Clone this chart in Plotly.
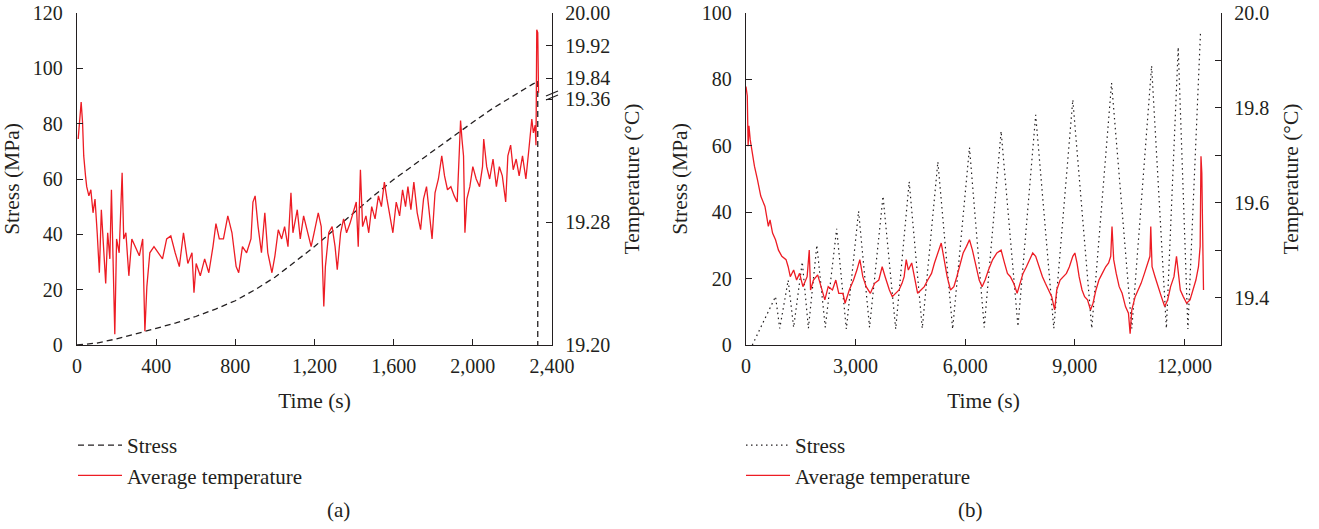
import plotly.graph_objects as go

FONT = "Liberation Serif"
INK = "#231f20"
RED = "#ed1c24"
W, H = 1319, 529

# ---------------- Panel (a) data ----------------
a_stress_time = [0, 100, 200, 300, 400, 500, 600, 700, 800, 900, 1000, 1100, 1200, 1300, 1400,
                 1500, 1600, 1700, 1800, 1900, 2000, 2100, 2200, 2300, 2320, 2328, 2328]
a_stress_val = [0, 0.7, 2.2, 4.0, 6.0, 8.0, 10.3, 13.0, 16.0, 20.0, 24.5, 30.0, 35.6, 41.7, 48.0,
                54.0, 59.8, 65.0, 70.0, 75.5, 80.5, 85.5, 90.0, 94.2, 95.0, 95.5, 0]

a_temp_time = [
    6, 21, 28, 34, 43, 49, 60, 70, 81, 91,
    102, 113, 123, 134, 145, 155, 166, 174, 183, 191,
    200, 213, 228, 236, 247, 262, 277, 294, 315, 332,
    343, 353, 368, 389, 411, 432, 453, 474, 496, 517,
    538, 560, 581, 591, 602, 623, 645, 666, 687, 702,
    719, 740, 762, 783, 804, 817, 836, 857, 879, 889,
    900, 915, 932, 949, 964, 985, 1000, 1017, 1034, 1049,
    1066, 1081, 1091, 1113, 1128, 1145, 1166, 1183, 1198, 1219,
    1234, 1247, 1255, 1272, 1289, 1304, 1315, 1332, 1347, 1362,
    1379, 1396, 1411, 1421, 1432, 1443, 1460, 1474, 1489, 1506,
    1523, 1538, 1553, 1566, 1581, 1596, 1613, 1630, 1645, 1660,
    1672, 1687, 1702, 1719, 1736, 1751, 1766, 1779, 1794, 1809,
    1826, 1843, 1857, 1872, 1889, 1906, 1921, 1932, 1938, 1945,
    1953, 1960, 1970, 1985, 2000, 2017, 2034, 2049, 2055, 2070,
    2085, 2102, 2119, 2134, 2149, 2166, 2177, 2191, 2204, 2219,
    2234, 2251, 2268, 2283, 2298, 2306, 2315, 2319,
    2323, 2328, 2332,
]
a_temp_val = [
    19.334, 19.358, 19.345, 19.323, 19.310, 19.303, 19.297, 19.301, 19.286, 19.295,
    19.273, 19.247, 19.288, 19.260, 19.240, 19.273, 19.256, 19.301, 19.260, 19.207,
    19.269, 19.260, 19.312, 19.269, 19.273, 19.245, 19.269, 19.264, 19.258, 19.269,
    19.209, 19.238, 19.260, 19.264, 19.260, 19.256, 19.269, 19.271, 19.260, 19.251,
    19.273, 19.253, 19.260, 19.234, 19.253, 19.245, 19.256, 19.247, 19.264, 19.279,
    19.269, 19.269, 19.284, 19.273, 19.251, 19.247, 19.264, 19.260, 19.269, 19.293,
    19.297, 19.277, 19.260, 19.286, 19.260, 19.247, 19.258, 19.275, 19.269, 19.277,
    19.264, 19.299, 19.273, 19.288, 19.269, 19.284, 19.273, 19.264, 19.273, 19.286,
    19.277, 19.225, 19.251, 19.273, 19.277, 19.264, 19.249, 19.273, 19.282, 19.273,
    19.279, 19.286, 19.293, 19.264, 19.314, 19.277, 19.284, 19.273, 19.290, 19.282,
    19.297, 19.290, 19.306, 19.295, 19.284, 19.273, 19.293, 19.284, 19.301, 19.290,
    19.303, 19.288, 19.306, 19.286, 19.275, 19.295, 19.303, 19.286, 19.269, 19.299,
    19.308, 19.323, 19.310, 19.301, 19.303, 19.297, 19.293, 19.327, 19.346, 19.334,
    19.323, 19.273, 19.295, 19.303, 19.316, 19.308, 19.303, 19.316, 19.334, 19.316,
    19.308, 19.321, 19.303, 19.316, 19.310, 19.293, 19.323, 19.330, 19.314, 19.321,
    19.310, 19.323, 19.308, 19.327, 19.347, 19.338, 19.343, 19.330,
    19.959, 19.952, 19.804,
]

a_time_ticks = [0, 400, 800, 1200, 1600, 2000, 2400]
a_temp_ticks = [19.20, 19.28, 19.36, 19.84, 19.92, 20.00]

# ---------------- Panel (b) data ----------------
b_stress_time = [173, 808, 923, 1154, 1304, 1540, 1708, 1939, 2170, 2481,
                 2746, 3081, 3381, 3750, 4097, 4466, 4824, 5251, 5655, 6116,
                 6520, 6982, 7443, 7928, 8424, 8944, 9463, 10005, 10559, 11101,
                 11505, 11829, 12094, 12440]
b_stress_val = [0, 14.6, 5.0, 19.5, 5.3, 25.0, 5.0, 30.1, 5.3, 35.0,
                4.8, 40.3, 5.3, 44.8, 4.8, 49.2, 5.0, 55.2, 4.8, 59.5,
                5.3, 64.4, 5.6, 69.3, 5.0, 73.9, 5.0, 78.9, 5.0, 84.1,
                5.0, 89.7, 4.8, 94.5]

b_temp_time = [
    0, 35, 58, 81, 115, 173, 231, 312, 404, 519,
    612, 658, 727, 808, 889, 981, 1096, 1154, 1212, 1304,
    1385, 1466, 1558, 1673, 1731, 1766, 1846, 1962, 2077, 2158,
    2250, 2366, 2458, 2539, 2654, 2712, 2827, 2943, 3035, 3116,
    3197, 3289, 3404, 3520, 3635, 3727, 3808, 3924, 4004, 4097,
    4189, 4270, 4328, 4385, 4443, 4535, 4616, 4697, 4789, 4881,
    4974, 5078, 5158, 5251, 5343, 5424, 5505, 5597, 5689, 5770,
    5851, 5943, 6035, 6116, 6197, 6289, 6382, 6462, 6543, 6636,
    6751, 6866, 6982, 7074, 7155, 7236, 7328, 7420, 7501, 7582,
    7674, 7766, 7847, 7928, 8020, 8113, 8193, 8274, 8367, 8447,
    8505, 8597, 8690, 8770, 8851, 8944, 9001, 9059, 9117, 9197,
    9267, 9347, 9428, 9497, 9578, 9659, 9751, 9844, 9924, 9982,
    10017, 10063, 10132, 10213, 10294, 10386, 10467, 10513, 10559, 10651,
    10732, 10813, 10905, 10998, 11055, 11078, 11113, 11194, 11275, 11367,
    11459, 11540, 11621, 11713, 11782, 11829, 11886, 11967, 12059, 12152,
    12232, 12313, 12384, 12429, 12452, 12475, 12498, 12521,
]
b_temp_val = [
    19.845, 19.825, 19.719, 19.762, 19.733, 19.705, 19.677, 19.649, 19.614, 19.592,
    19.550, 19.564, 19.536, 19.522, 19.500, 19.487, 19.480, 19.465, 19.444, 19.458,
    19.437, 19.451, 19.423, 19.444, 19.500, 19.416, 19.437, 19.448, 19.416, 19.395,
    19.423, 19.416, 19.437, 19.409, 19.409, 19.388, 19.416, 19.437, 19.458, 19.480,
    19.444, 19.423, 19.409, 19.430, 19.437, 19.465, 19.444, 19.416, 19.402, 19.409,
    19.416, 19.430, 19.444, 19.480, 19.458, 19.473, 19.437, 19.409, 19.416, 19.423,
    19.437, 19.451, 19.473, 19.494, 19.515, 19.480, 19.444, 19.416, 19.423, 19.444,
    19.465, 19.494, 19.508, 19.522, 19.500, 19.465, 19.437, 19.423, 19.437, 19.458,
    19.480, 19.494, 19.500, 19.473, 19.451, 19.444, 19.430, 19.409, 19.430, 19.451,
    19.465, 19.480, 19.494, 19.487, 19.465, 19.444, 19.430, 19.416, 19.402, 19.374,
    19.416, 19.437, 19.444, 19.451, 19.465, 19.487, 19.494, 19.473, 19.444, 19.416,
    19.402, 19.395, 19.374, 19.388, 19.416, 19.437, 19.451, 19.465, 19.473, 19.487,
    19.550, 19.480, 19.451, 19.423, 19.409, 19.381, 19.367, 19.324, 19.374, 19.402,
    19.416, 19.430, 19.451, 19.473, 19.487, 19.550, 19.465, 19.444, 19.423, 19.402,
    19.381, 19.395, 19.423, 19.444, 19.487, 19.451, 19.416, 19.402, 19.388, 19.395,
    19.416, 19.437, 19.465, 19.508, 19.698, 19.663, 19.536, 19.416,
]

b_time_ticks = [0, 3000, 6000, 9000, 12000]
b_temp_ticks = [19.4, 19.5, 19.6, 19.7, 19.8, 19.9, 20.0]
b_temp_labels = ["19.4", "", "19.6", "", "19.8", "", "20.0"]


# Broken temperature axis of panel (a): two linear segments drawn on a 0-120 scale
def broken_axis(t):
    if t < 19.5:
        return (t - 19.20) * 555.6
    return 96.5 + (t - 19.84) * 146.9


def px(x):
    return x / W


def py(y):
    return 1 - y / H


fig = go.Figure()
fig.add_trace(go.Scatter(x=a_stress_time, y=a_stress_val, mode="lines", name="Stress",
                         line=dict(color=INK, width=1.3, dash="6px,4px"),
                         xaxis="x", yaxis="y", legend="legend"))
fig.add_trace(go.Scatter(x=a_temp_time, y=[broken_axis(v) for v in a_temp_val], mode="lines",
                         name="Average temperature", line=dict(color=RED, width=1.3),
                         xaxis="x", yaxis="y2", legend="legend"))
fig.add_trace(go.Scatter(x=b_stress_time, y=b_stress_val, mode="lines", name="Stress",
                         line=dict(color=INK, width=1.2, dash="1.5px,3.5px"),
                         xaxis="x2", yaxis="y3", legend="legend2"))
fig.add_trace(go.Scatter(x=b_temp_time, y=b_temp_val, mode="lines", name="Average temperature",
                         line=dict(color=RED, width=1.3),
                         xaxis="x2", yaxis="y4", legend="legend2"))

tickfont = dict(family=FONT, size=20, color=INK)
titlefont = dict(family=FONT, size=21.5, color=INK)
common = dict(showline=True, linecolor=INK, linewidth=1.3, ticks="inside", ticklen=6,
              tickwidth=1.2, tickcolor=INK, showgrid=False, zeroline=False,
              tickfont=tickfont, automargin=False)

dom_y = [py(345), py(13)]
fig.update_layout(
    width=W, height=H, margin=dict(l=0, r=0, t=0, b=0),
    paper_bgcolor="white", plot_bgcolor="white",
    font=dict(family=FONT, color=INK),
    xaxis=dict(domain=[px(77), px(552)], range=[0, 2400], anchor="y",
               tickvals=a_time_ticks, tickformat=",", ticklabelstandoff=3,
               title=dict(text="Time (s)", font=titlefont, standoff=16), **common),
    yaxis=dict(domain=dom_y, range=[0, 120], anchor="x", dtick=20, ticklabelstandoff=9,
               title=dict(text="Stress (MPa)", font=titlefont, standoff=8), **common),
    yaxis2=dict(overlaying="y", side="right", anchor="x", range=[0, 120],
                tickvals=[broken_axis(v) for v in a_temp_ticks],
                ticktext=[f"{v:.2f}" for v in a_temp_ticks], ticklabelstandoff=8,
                title=dict(text="Temperature (°C)", font=titlefont, standoff=14), **common),
    xaxis2=dict(domain=[px(746), px(1221)], range=[0, 13000], anchor="y3",
                tickvals=b_time_ticks, tickformat=",", ticklabelstandoff=3,
                title=dict(text="Time (s)", font=titlefont, standoff=16), **common),
    yaxis3=dict(domain=dom_y, range=[0, 100], anchor="x2", dtick=20, ticklabelstandoff=9,
                title=dict(text="Stress (MPa)", font=titlefont, standoff=8), **common),
    yaxis4=dict(overlaying="y3", side="right", anchor="x2", range=[19.3, 20.0],
                tickvals=b_temp_ticks, ticktext=b_temp_labels, ticklabelstandoff=8,
                title=dict(text="Temperature (°C)", font=titlefont, standoff=14), **common),
    legend=dict(x=px(73), y=py(425), xanchor="left", yanchor="top",
                font=dict(family=FONT, size=21, color=INK), bgcolor="rgba(0,0,0,0)",
                itemwidth=44, tracegroupgap=0),
    legend2=dict(x=px(741), y=py(425), xanchor="left", yanchor="top",
                 font=dict(family=FONT, size=21, color=INK), bgcolor="rgba(0,0,0,0)",
                 itemwidth=44, tracegroupgap=0),
    showlegend=True,
    annotations=[
        dict(text="(a)", x=px(325), y=py(510), xref="paper", yref="paper", yanchor="middle",
             showarrow=False, font=dict(family=FONT, size=21, color=INK)),
        dict(text="(b)", x=px(985), y=py(510), xref="paper", yref="paper", yanchor="middle",
             showarrow=False, font=dict(family=FONT, size=21, color=INK)),
    ],
    shapes=[
        dict(type="line", xref="paper", yref="paper", x0=px(546), y0=py(96), x1=px(558), y1=py(91),
             line=dict(color=INK, width=1.2)),
        dict(type="line", xref="paper", yref="paper", x0=px(546), y0=py(100), x1=px(558), y1=py(95),
             line=dict(color=INK, width=1.2)),
    ],
)

fig.write_html("out.html")
